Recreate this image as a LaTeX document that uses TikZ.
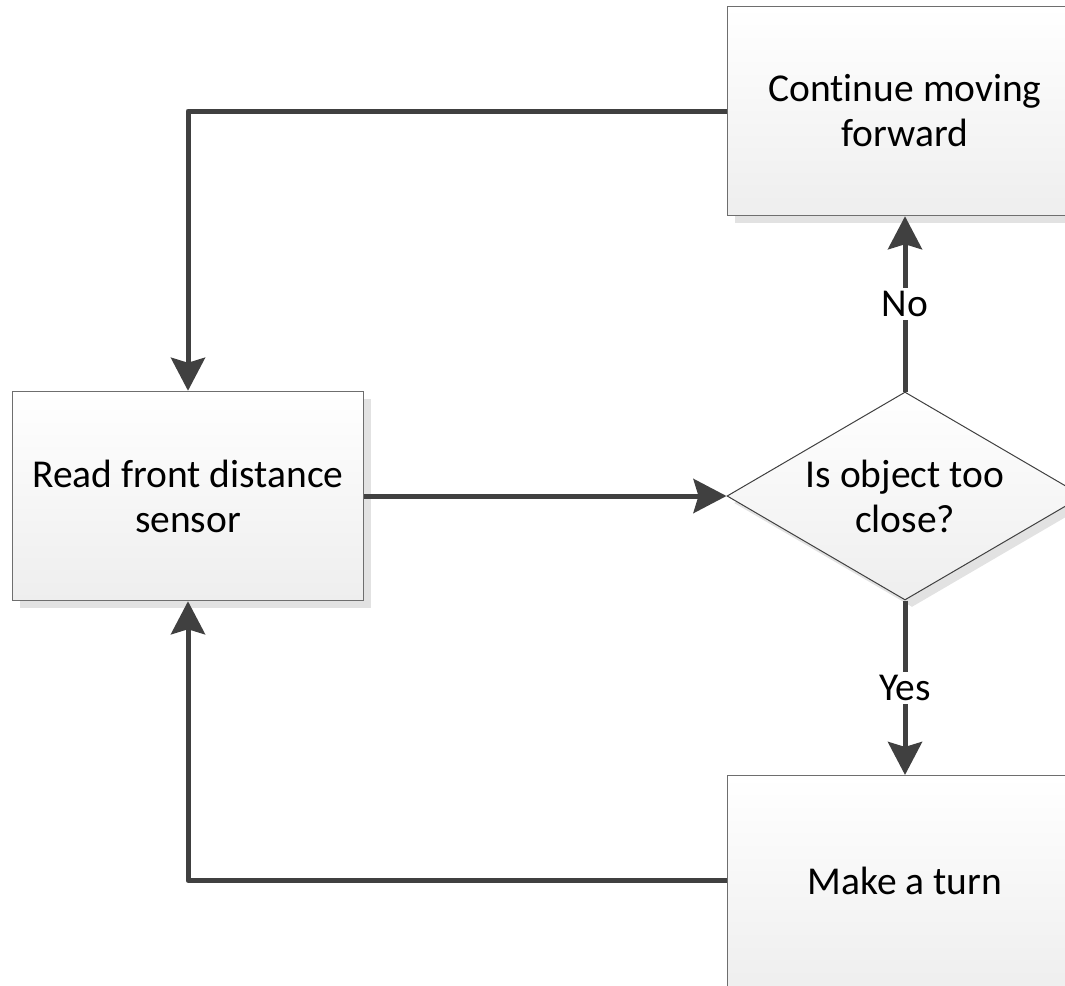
\documentclass[tikz,border=0pt]{standalone}
\usepackage{fontspec}
\setmainfont{Carlito}[Ligatures=NoCommon]
\usetikzlibrary{arrows.meta,shapes.geometric,shadows}
\definecolor{linegray}{HTML}{404040}
\definecolor{bordergray}{HTML}{6E6E6E}
\definecolor{shadowgray}{HTML}{E2E2E2}
\definecolor{fillbot}{HTML}{EEEEEE}
\begin{document}
\begin{tikzpicture}[x=1pt,y=-1pt,
  txtfont/.style={font=\fontsize{39.5}{45}\selectfont},
  procbox/.style={rectangle, draw=bordergray, line width=1.5pt,
    top color=white, bottom color=fillbot,
    minimum width=355pt, minimum height=209pt, inner sep=0pt,
    general shadow={fill=shadowgray, shadow xshift=7pt, shadow yshift=-7pt},
    align=center, txtfont},
  decision/.style={diamond, draw=linegray, line width=1pt,
    top color=white, bottom color=fillbot,
    minimum width=356pt, minimum height=208pt, inner sep=0pt,
    general shadow={fill=shadowgray, shadow xshift=7pt, shadow yshift=-7pt}},
  txt/.style={align=center, txtfont, inner sep=0pt},
  lbl/.style={fill=white, inner sep=3pt, txtfont},
  conn/.style={draw=linegray, line width=5pt, line join=round,
    -{Stealth[length=33pt, width=34pt, inset=5pt]}}
]
\clip (0,0) rectangle (1065,985);
\node[procbox] (fwd) at (905,111) {Continue moving\\forward};
\node[procbox, minimum width=351pt] (read) at (188,496) {Read front distance\\sensor};
\node[decision] (dec) at (905,496) {};
\node[txt] (dectxt) at (dec) {Is object too\\close?};
\node[procbox, minimum height=216pt] (turn) at (905,883.7) {};
\node[txt] (turntxt) at (905,880.5) {Make a turn};
\draw[conn] (fwd.west) -| (read.north);
\draw[conn] (read.east) -- (dec.west);
\draw[conn] (dec.north) -- node[lbl] (no) {No} (fwd.south);
\draw[conn] (dec.south) -- node[lbl] (yes) {Yes} (turn.north);
\draw[conn] (turn.west |- turntxt) -| (read.south);
\end{tikzpicture}
\end{document}
